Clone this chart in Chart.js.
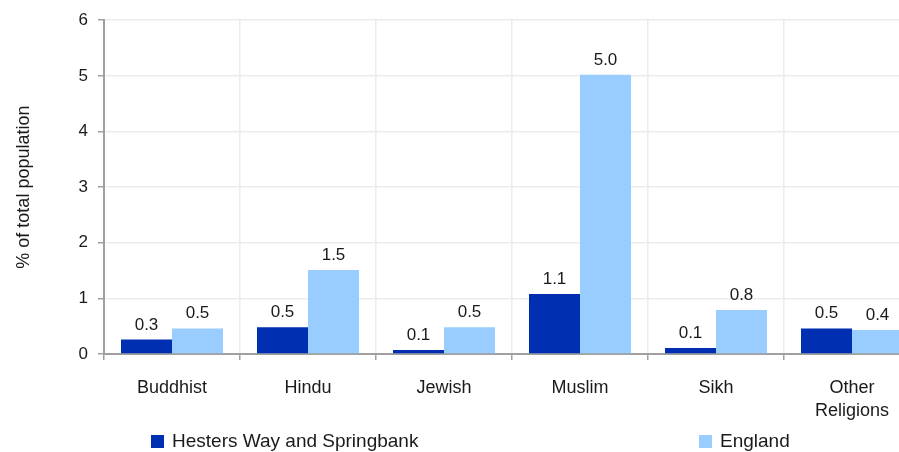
<!DOCTYPE html>
<html>
<head>
<meta charset="utf-8">
<script src="https://cdn.jsdelivr.net/npm/chart.js@4/dist/chart.umd.min.js"></script>
<style>
  html, body { margin: 0; padding: 0; background: #fff; overflow: hidden; }
  #wrap { width: 930px; height: 452px; }
</style>
</head>
<body>
<div id="wrap"><canvas id="religionChart" width="930" height="452"></canvas></div>
<script>
const categories = ['Buddhist', 'Hindu', 'Jewish', 'Muslim', 'Sikh', ['Other', 'Religions']];
const hestersWay = [0.26, 0.48, 0.07, 1.08, 0.11, 0.46];
const england = [0.46, 1.51, 0.48, 5.02, 0.79, 0.43];
const yTicks = [0, 1, 2, 3, 4, 5, 6];

const FONT = "'Liberation Sans', Arial, sans-serif";

// value labels above each bar
const barLabels = {
    id: 'barLabels',
    afterDatasetsDraw(chart) {
        const ctx = chart.ctx;
        ctx.save();
        ctx.font = '17px ' + FONT;
        ctx.fillStyle = '#1a1a1a';
        ctx.textAlign = 'center';
        ctx.textBaseline = 'alphabetic';
        chart.data.datasets.forEach((ds, i) => {
            chart.getDatasetMeta(i).data.forEach((bar, j) => {
                ctx.fillText(ds.data[j].toFixed(1), bar.x, bar.y - 10);
            });
        });
        ctx.restore();
    },
};

// legend spread across the bottom like the original
const bottomLegend = {
    id: 'bottomLegend',
    afterDraw(chart) {
        const ctx = chart.ctx;
        const left = chart.chartArea.left;
        const offsets = [47, 595];
        const y = 441;
        ctx.save();
        ctx.font = '19px ' + FONT;
        ctx.textBaseline = 'middle';
        ctx.textAlign = 'left';
        chart.data.datasets.forEach((ds, i) => {
            const x = left + offsets[i];
            ctx.fillStyle = ds.backgroundColor;
            ctx.fillRect(x, y - 6, 13, 13);
            ctx.fillStyle = '#1a1a1a';
            ctx.fillText(ds.label, x + 21, y + 1);
        });
        ctx.restore();
    },
};

new Chart(document.getElementById('religionChart'), {
    type: 'bar',
    data: {
        labels: categories,
        datasets: [
            {
                label: 'Hesters Way and Springbank',
                data: hestersWay,
                backgroundColor: '#002fb2',
                categoryPercentage: 0.75,
                barPercentage: 1.0,
            },
            {
                label: 'England',
                data: england,
                backgroundColor: '#99ccff',
                categoryPercentage: 0.75,
                barPercentage: 1.0,
            },
        ],
    },
    options: {
        responsive: false,
        animation: false,
        devicePixelRatio: 1,
        layout: {
            padding: { top: 19, right: 10, bottom: 0, left: 0 },
        },
        scales: {
            x: {
                grid: {
                    color: '#ececec',
                    lineWidth: 1.5,
                    tickColor: '#a0a0a0',
                    tickLength: 6,
                },
                border: { color: '#a0a0a0', width: 2 },
                ticks: {
                    color: '#1a1a1a',
                    font: { family: FONT, size: 18, lineHeight: 1.3 },
                    padding: 16,
                    maxRotation: 0,
                    autoSkip: false,
                },
                afterFit: scale => { scale.height = 98; },
            },
            y: {
                min: 0,
                max: 6,
                afterBuildTicks: scale => {
                    scale.ticks = yTicks.map(v => ({ value: v }));
                },
                grid: {
                    color: '#ececec',
                    lineWidth: 1.5,
                    tickColor: '#a0a0a0',
                    tickLength: 6,
                },
                border: { color: '#a0a0a0', width: 2 },
                ticks: {
                    color: '#1a1a1a',
                    font: { family: FONT, size: 17 },
                    padding: 10,
                },
                title: {
                    display: true,
                    text: '% of total population',
                    color: '#1a1a1a',
                    font: { family: FONT, size: 18 },
                    padding: { top: 13, bottom: 0 },
                },
                afterFit: scale => { scale.width = 104; },
            },
        },
        plugins: {
            legend: { display: false },
            tooltip: { enabled: false },
        },
    },
    plugins: [barLabels, bottomLegend],
});
</script>
</body>
</html>
